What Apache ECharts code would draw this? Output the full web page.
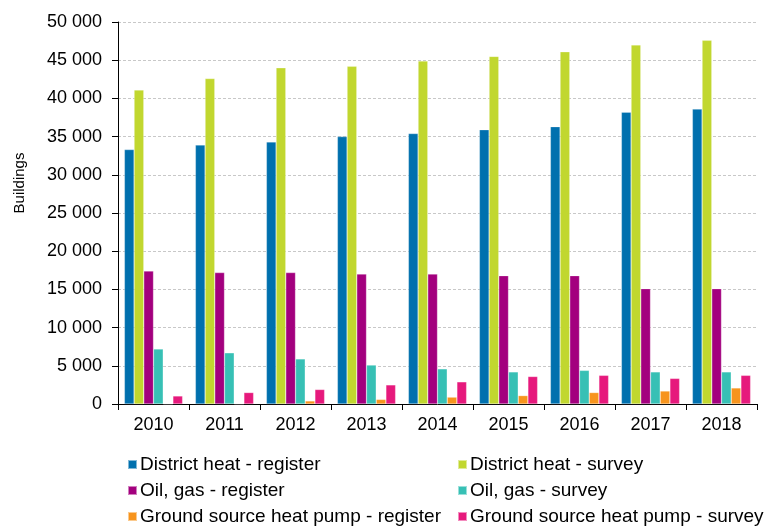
<!DOCTYPE html>
<html><head><meta charset="utf-8">
<script src="https://cdn.jsdelivr.net/npm/echarts@6/dist/echarts.min.js"></script>
<style>html,body{margin:0;padding:0;background:#fff}#c{width:767px;height:529px}</style>
</head><body><div id="c"></div>
<script>
const categories = ['2010','2011','2012','2013','2014','2015','2016','2017','2018'];
const seriesNames = ['District heat - register','District heat - survey','Oil, gas - register','Oil, gas - survey','Ground source heat pump - register','Ground source heat pump - survey'];
const districtRegister = [33300, 33900, 34300, 35000, 35400, 35900, 36300, 38200, 38600];
const districtSurvey   = [41100, 42600, 44000, 44200, 44900, 45500, 46100, 47000, 47600];
const oilRegister      = [17400, 17200, 17200, 17000, 17000, 16800, 16800, 15100, 15100];
const oilSurvey        = [7200, 6700, 5900, 5100, 4600, 4200, 4400, 4200, 4200];
const gshpRegister     = [0, 0, 400, 600, 900, 1100, 1500, 1700, 2100];
const gshpSurvey       = [1050, 1500, 1900, 2500, 2900, 3600, 3750, 3350, 3750];
const yTicks = [0, 5000, 10000, 15000, 20000, 25000, 30000, 35000, 40000, 45000, 50000];
const yAxisTitle = 'Buildings';
const colors = ['#0070ae', '#c1d72f', '#a3007e', '#37c0b5', '#f7941d', '#e6197c'];
const values = [districtRegister, districtSurvey, oilRegister, oilSurvey, gshpRegister, gshpSurvey];

const chart = echarts.init(document.getElementById('c'));
const font = 'Liberation Sans, Arial, sans-serif';
const legendText = {fontFamily: font, fontSize: 19, color: '#000', padding: [0,0,0,-2]};
chart.setOption({
  animation: false,
  color: colors,
  grid: {left: 118, right: 10, top: 22, bottom: 125, containLabel: false, outerBoundsMode: 'none'},
  legend: [
    {data: [seriesNames[0], seriesNames[2], seriesNames[4]], orient: 'vertical', left: 127, top: 455, itemGap: 7, padding: 0,
     icon: 'rect', itemWidth: 9, itemHeight: 9, textStyle: legendText},
    {data: [seriesNames[1], seriesNames[3], seriesNames[5]], orient: 'vertical', left: 457, top: 455, itemGap: 7, padding: 0,
     icon: 'rect', itemWidth: 9, itemHeight: 9, textStyle: legendText}
  ],
  graphic: [{
    type: 'text', x: 20, y: 183, rotation: Math.PI / 2,
    style: {text: yAxisTitle, font: '15px Liberation Sans, Arial, sans-serif', fill: '#000', align: 'center', verticalAlign: 'middle'}
  }],
  xAxis: {
    type: 'category', data: categories,
    axisLine: {lineStyle: {color: '#000', width: 1}},
    axisTick: {show: true, length: 6, lineStyle: {color: '#000'}},
    axisLabel: {fontFamily: font, fontSize: 18, color: '#000', margin: 12}
  },
  yAxis: {
    type: 'value', min: yTicks[0], max: yTicks[yTicks.length-1], interval: yTicks[1]-yTicks[0],
    axisLine: {show: true, lineStyle: {color: '#000', width: 1}},
    axisTick: {show: true, length: 6, lineStyle: {color: '#000'}},
    axisLabel: {fontFamily: font, fontSize: 18, color: '#000', margin: 16,
      formatter: v => String(v).replace(/\B(?=(\d{3})+(?!\d))/g, ' ')},
    splitLine: {show: true, lineStyle: {color: '#c8c8c8', type: [3, 2], width: 1}}
  },
  series: seriesNames.map((n, i) => ({
    name: n, type: 'bar', data: values[i], barGap: '0%', barCategoryGap: '18%',
    itemStyle: {color: colors[i], borderColor: 'rgba(255,255,255,0.5)', borderWidth: 0.5}
  }))
});
</script></body></html>
